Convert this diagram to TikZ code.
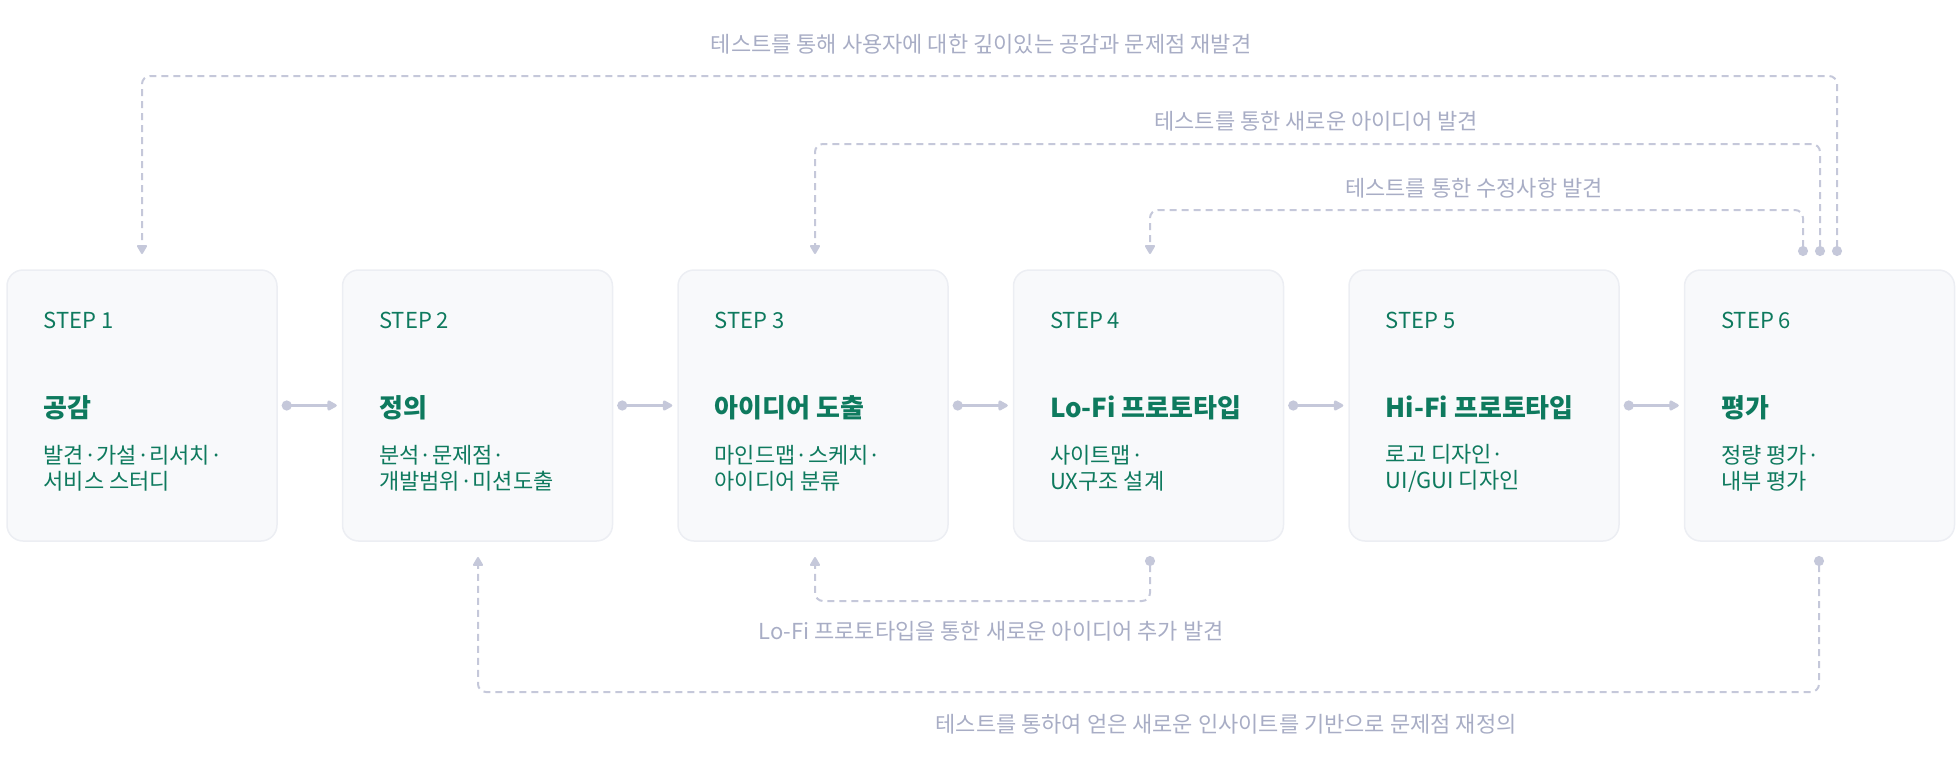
\documentclass[tikz,border=0pt]{standalone}
\usepackage{fontspec}
\setmainfont{Noto Sans CJK KR}
\usetikzlibrary{arrows.meta}

\definecolor{stepgreen}{RGB}{14,122,94}
\definecolor{notegray}{RGB}{168,173,197}
\definecolor{linegray}{RGB}{197,200,218}
\definecolor{boxfill}{RGB}{248,249,251}
\definecolor{boxline}{RGB}{236,238,243}

\tikzset{every picture/.style={line width=0.75pt}}
\tikzset{
  stepbox/.style={draw=boxline, fill=boxfill, line width=0.75pt, rounded corners=8pt, minimum width=135pt, minimum height=135.5pt, inner sep=0pt},
  steptag/.style={anchor=west, inner sep=0pt, text=stepgreen, font=\fontsize{11}{13}\selectfont},
  steptitle/.style={anchor=west, inner sep=0pt, text=stepgreen, font=\fontsize{13}{15}\selectfont\bfseries},
  stepdesc/.style={anchor=west, inner sep=0pt, text=stepgreen, align=left, font=\fontsize{11}{13}\selectfont},
  note/.style={inner sep=0pt, text=notegray, font=\fontsize{11}{13}\selectfont},
  nextarrow/.style={draw=linegray, line width=1.5pt, {Circle[length=5pt]}-{Triangle[length=5.5pt,width=5.5pt,round]}},
  backloop/.style={draw=linegray, line width=1pt, dash pattern=on 3.5pt off 2.5pt, rounded corners=4pt, {Circle[length=5pt]}-{Triangle[length=5pt,width=5.5pt,round]}},
}

\begin{document}
\begin{tikzpicture}[x=0.5pt,y=0.5pt,yscale=-1,xscale=1]
    \path[use as bounding box] (0,0) rectangle (1960,776);

    %Shape: Rounded Rect (steps)
    \node[stepbox] (s1) at (142,405.5) {};
    \node[stepbox] (s2) at (477.5,405.5) {};
    \node[stepbox] (s3) at (813,405.5) {};
    \node[stepbox] (s4) at (1148.5,405.5) {};
    \node[stepbox] (s5) at (1484,405.5) {};
    \node[stepbox] (s6) at (1819.5,405.5) {};

    % Text Node
    \node[steptag] (t1) at (43,320) {STEP 1};
    \node[steptitle] (h1) at (43,408) {공감};
    \node[stepdesc] (d1) at (43,468) {발견·가설·리서치·\\서비스 스터디};
    % Text Node
    \node[steptag] (t2) at (378.5,320) {STEP 2};
    \node[steptitle] (h2) at (378.5,408) {정의};
    \node[stepdesc] (d2) at (378.5,468) {분석·문제점·\\개발범위·미션도출};
    % Text Node
    \node[steptag] (t3) at (714,320) {STEP 3};
    \node[steptitle] (h3) at (714,408) {아이디어 도출};
    \node[stepdesc] (d3) at (714,468) {마인드맵·스케치·\\아이디어 분류};
    % Text Node
    \node[steptag] (t4) at (1049.5,320) {STEP 4};
    \node[steptitle] (h4) at (1049.5,408) {Lo-Fi 프로토타입};
    \node[stepdesc] (d4) at (1049.5,468) {사이트맵·\\UX구조 설계};
    % Text Node
    \node[steptag] (t5) at (1385,320) {STEP 5};
    \node[steptitle] (h5) at (1385,408) {Hi-Fi 프로토타입};
    \node[stepdesc] (d5) at (1385,468) {로고 디자인·\\UI/GUI 디자인};
    % Text Node
    \node[steptag] (t6) at (1720.5,320) {STEP 6};
    \node[steptitle] (h6) at (1720.5,408) {평가};
    \node[stepdesc] (d6) at (1720.5,468) {정량 평가·\\내부 평가};

    %Straight Lines (step to step)
    \draw[nextarrow] ([xshift=2pt]s1.east) -- ([xshift=-2.5pt]s2.west);
    \draw[nextarrow] ([xshift=2pt]s2.east) -- ([xshift=-2.5pt]s3.west);
    \draw[nextarrow] ([xshift=2pt]s3.east) -- ([xshift=-2.5pt]s4.west);
    \draw[nextarrow] ([xshift=2pt]s4.east) -- ([xshift=-2.5pt]s5.west);
    \draw[nextarrow] ([xshift=2pt]s5.east) -- ([xshift=-2.5pt]s6.west);

    % ports above and below the steps
    \coordinate (o6a) at (1803,256);
    \coordinate (o6b) at (1820,256);
    \coordinate (o6c) at (1837,256);
    \coordinate (i1) at (142,254);
    \coordinate (i3) at (815,254);
    \coordinate (i4) at (1150,254);
    \coordinate (o4) at (1150,556);
    \coordinate (o6d) at (1819,556);
    \coordinate (i2) at (478,557);
    \coordinate (i3b) at (815,557);
    % turning points of the loops
    \coordinate (m1) at (981,76);
    \coordinate (m2) at (1316,144);
    \coordinate (m3) at (1474,210);
    \coordinate (m4) at (983,601);
    \coordinate (m5) at (1148,692);

    %Dashed Lines (test loops)
    \draw[backloop] (o6c) |- (m1) -| (i1);
    \draw[backloop] (o6b) |- (m2) -| (i3);
    \draw[backloop] (o6a) |- (m3) -| (i4);
    \draw[backloop] (o4) |- (m4) -| (i3b);
    \draw[backloop] (o6d) |- (m5) -| (i2);

    % Text Node
    \node[note] (n1) at (981,44) {테스트를 통해 사용자에 대한 깊이있는 공감과 문제점 재발견};
    % Text Node
    \node[note] (n2) at (1316,121) {테스트를 통한 새로운 아이디어 발견};
    % Text Node
    \node[note] (n3) at (1474,188) {테스트를 통한 수정사항 발견};
    % Text Node
    \node[note] (n4) at (991,631) {Lo-Fi 프로토타입을 통한 새로운 아이디어 추가 발견};
    % Text Node
    \node[note] (n5) at (1226,724) {테스트를 통하여 얻은 새로운 인사이트를 기반으로 문제점 재정의};

\end{tikzpicture}
\end{document}
